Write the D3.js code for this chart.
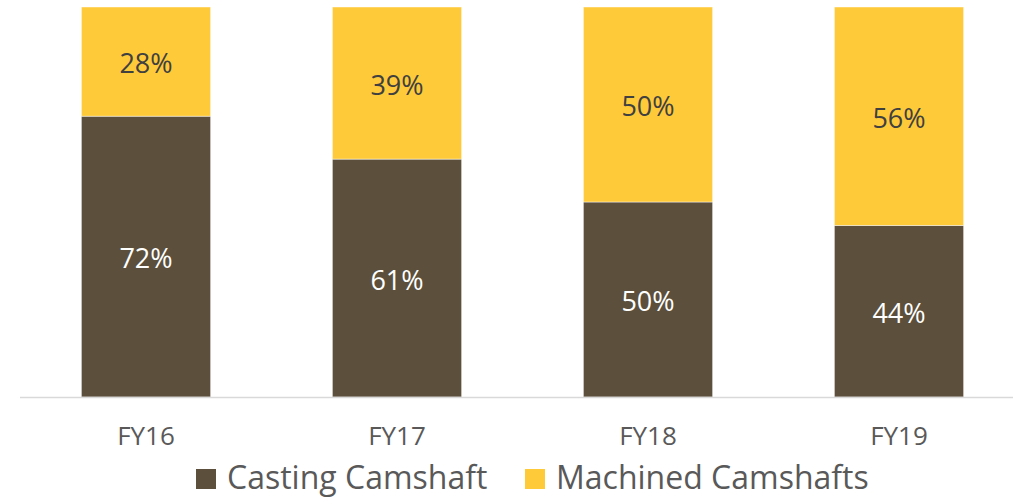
<!DOCTYPE html>
<html>
<head>
<meta charset="utf-8">
<script src="https://cdn.jsdelivr.net/npm/d3@7"></script>
<style>
  html, body { margin: 0; padding: 0; background: #fff; }
  svg { display: block; font-family: "Open Sans", "Noto Sans", sans-serif; }
</style>
</head>
<body>
<svg id="chart" width="1013" height="498"></svg>
<script>
// Product mix by fiscal year (share of revenue, %)
const years = ["FY16", "FY17", "FY18", "FY19"];
const casting = [72, 61, 50, 44];
const machined = [28, 39, 50, 56];
const seriesNames = ["Casting Camshaft", "Machined Camshafts"];
const seriesColors = ["#5c4f3b", "#ffca3a"];
const labelColors = ["#ffffff", "#404040"];

const svg = d3.select("#chart");
const W = 1013, H = 498;
const baseY = 397, topY = 7;

const x = d3.scaleBand()
  .domain(years)
  .range([20.5, 1024.5])
  .paddingInner(0.485)
  .paddingOuter(0.2425);

const y = d3.scaleLinear().domain([0, 100]).range([baseY, topY]);

const rows = years.map((yr, i) => ({ year: yr, casting: casting[i], machined: machined[i] }));
const stacked = d3.stack().keys(["casting", "machined"])(rows);

const g = svg.append("g");

stacked.forEach((layer, li) => {
  const grp = g.append("g");
  grp.selectAll("rect")
    .data(layer)
    .join("rect")
    .attr("x", d => x(d.data.year))
    .attr("width", x.bandwidth())
    .attr("y", d => y(d[1]))
    .attr("height", d => y(d[0]) - y(d[1]))
    .attr("fill", seriesColors[li])
    .attr("stroke", "#ffffff")
    .attr("stroke-opacity", 0.6)
    .attr("stroke-width", 0.75);

  grp.selectAll("text")
    .data(layer)
    .join("text")
    .attr("x", d => x(d.data.year) + x.bandwidth() / 2)
    .attr("y", d => (y(d[0]) + y(d[1])) / 2 + 2)
    .attr("dy", "0.36em")
    .attr("text-anchor", "middle")
    .attr("font-size", 27)
    .attr("fill", labelColors[li])
    .text(d => (d[1] - d[0]) + "%");
});

// Category axis
const axis = d3.axisBottom(x).tickSize(0).tickPadding(30);
const axG = svg.append("g").attr("transform", `translate(0,${baseY})`).call(axis);
axG.select(".domain").remove();
axG.selectAll("text")
  .attr("font-size", 26)
  .attr("font-family", "'Open Sans', 'Noto Sans', sans-serif")
  .attr("fill", "#595959");
svg.append("line")
  .attr("x1", 20).attr("x2", W)
  .attr("y1", baseY + 0.5).attr("y2", baseY + 0.5)
  .attr("stroke", "#d9d9d9")
  .attr("stroke-width", 1.5);

// Legend
const legendX = [196, 525];
const leg = svg.append("g");
seriesNames.forEach((name, i) => {
  leg.append("rect")
    .attr("x", legendX[i]).attr("y", 469)
    .attr("width", 20).attr("height", 20)
    .attr("fill", seriesColors[i]);
  leg.append("text")
    .attr("x", legendX[i] + 31).attr("y", 489)
    .attr("font-size", 32)
    .attr("fill", "#595959")
    .text(name);
});
</script>
</body>
</html>
